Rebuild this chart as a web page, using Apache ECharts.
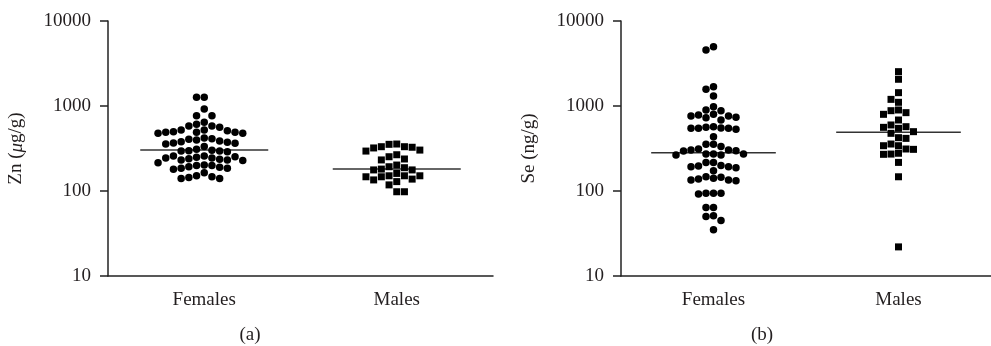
<!DOCTYPE html>
<html><head><meta charset="utf-8">
<script src="https://cdn.jsdelivr.net/npm/echarts@6/dist/echarts.min.js"></script>
<style>html,body{margin:0;padding:0;background:#fff}#c{width:991px;height:346px}</style>
</head><body><div id="c"></div>
<script>
const categories = ['Females', 'Males'];
const yTickLabels = ['10', '100', '1000', '10000'];
const panelLabels = ['(a)', '(b)'];
const yNames = ['Zn', 'Se'];

const znFemales = [1265,1265,922,769,769,642,582,561,582,609,522,490,490,477,477,490,499,513,522,413,398,380,367,357,364,374,387,405,420,309,298,295,290,295,301,333,258,249,244,240,232,228,232,236,244,253,258,202,199,193,185,180,185,190,199,215,151,144,140,140,147,164];
const znMales = [354,332,321,295,303,327,332,357,267,238,232,253,193,181,177,177,188,202,151,151,147,135,118,129,138,147,151,161,98,98];
const seFemales = [4990,4560,1687,1571,1312,982,898,881,798,763,736,684,728,763,784,571,546,531,435,546,551,546,561,354,354,312,303,295,265,272,272,272,265,298,303,333,217,217,199,193,173,188,193,197,147,141,135,132,135,138,145,94,94,92,94,64,64,51,45,50,35];
const seMales = [2535,2063,1435,1105,1197,898,835,798,881,684,571,546,561,598,477,499,424,416,357,341,341,309,278,270,272,312,217,147,22];
const znMedians = [303, 181];
const seMedians = [282, 490];

const FONT = '"Liberation Serif", "DejaVu Serif", serif';
const TXT = '#231f20';
const grids = [{left:108, top:21, height:255, width:385}, {left:621, top:21, height:255, width:380}];
const DOT = 7.5, COL = 7.7, HALF = 64;

function swarm(values, center, grid) {
  const pxPerUnit = grid.width / 2;
  const placed = [];
  const out = new Array(values.length);
  const order = values.map((v, i) => i).sort((a, b) => values[b] - values[a]);
  order.forEach(i => {
    const v = values[i];
    const py = (4 - Math.log10(v)) / 3 * grid.height;
    for (let s = 0; s < 60; s++) {
      const k = s === 0 ? 0 : (s % 2 ? -Math.ceil(s / 2) : s / 2);
      if (!placed.some(p => p.k === k && Math.abs(p.py - py) < DOT)) {
        placed.push({k, py});
        out[i] = [center + k * COL / pxPerUnit, v];
        break;
      }
    }
  });
  return out;
}

const chart = echarts.init(document.getElementById('c'), null, {renderer: 'canvas'});
const xAxes = [], yAxes = [], series = [];
grids.forEach((g, gi) => {
  xAxes.push({
    type: 'category', gridIndex: gi, data: categories, boundaryGap: true,
    axisLine: {onZero: false, lineStyle: {color: '#222', width: 1.5}},
    axisTick: {alignWithLabel: true, length: 7, lineStyle: {color: '#222', width: 1.5}},
    axisLabel: {color: TXT, fontFamily: FONT, fontSize: 19, margin: 15}
  });
});
grids.forEach((g, gi) => {
  xAxes.push({type: 'value', gridIndex: gi, min: -0.5, max: 1.5, show: false});
});
grids.forEach((g, gi) => {
  yAxes.push({
    type: 'log', logBase: 10, gridIndex: gi, min: 10, max: 10000,
    name: gi === 0 ? '{n|' + yNames[0] + ' (}{i|μ}{n|g/g)}' : '{n|' + yNames[1] + ' (ng/g)}',
    nameLocation: 'middle', nameGap: 82,
    nameTextStyle: {rich: {
      n: {fontFamily: FONT, fontSize: 19, color: TXT},
      i: {fontFamily: FONT, fontSize: 19, color: TXT, fontStyle: 'italic'}
    }},
    splitLine: {show: false}, minorTick: {show: false},
    axisLine: {show: true, onZero: false, lineStyle: {color: '#222', width: 1.5}},
    axisTick: {show: true, length: 8, lineStyle: {color: '#222', width: 1.5}},
    axisLabel: {color: TXT, fontFamily: FONT, fontSize: 19, margin: 17,
      formatter: v => yTickLabels.find(t => Math.abs(Number(t) - v) < 1e-6 * v) || ''}
  });
});

[[znFemales, znMales, znMedians], [seFemales, seMales, seMedians]].forEach((p, gi) => {
  [p[0], p[1]].forEach((vals, ci) => {
    series.push({
      type: 'line', xAxisIndex: 2 + gi, yAxisIndex: gi, z: 1,
      data: [[ci - HALF / (grids[gi].width / 2), p[2][ci]], [ci + HALF / (grids[gi].width / 2), p[2][ci]]],
      symbol: 'none', lineStyle: {color: '#333', width: 1.5}, silent: true
    });
    series.push({
      type: 'scatter', xAxisIndex: 2 + gi, yAxisIndex: gi, z: 3,
      symbol: ci === 0 ? 'circle' : 'rect', symbolSize: ci === 0 ? DOT : 7,
      itemStyle: {color: '#000', opacity: 1},
      data: swarm(vals, ci, grids[gi])
    });
  });
});

chart.setOption({
  animation: false,
  grid: grids,
  xAxis: xAxes, yAxis: yAxes, series,
  graphic: panelLabels.map((t, i) => ({
    type: 'text', x: i === 0 ? 250 : 762, y: 335,
    style: {text: t, fill: TXT, font: '19px ' + FONT, textAlign: 'center', textVerticalAlign: 'middle'}
  }))
});
</script></body></html>
